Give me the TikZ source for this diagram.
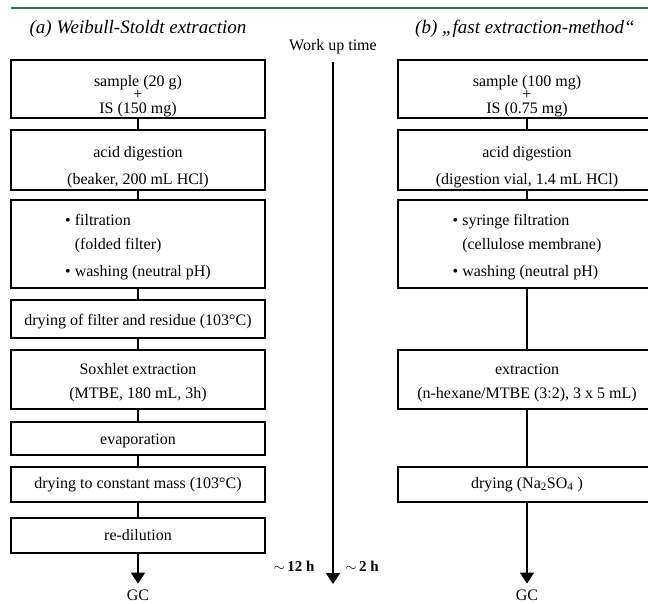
\documentclass[tikz,border=0pt]{standalone}
\usepackage{fontspec}
\setmainfont{Liberation Serif}
\usetikzlibrary{arrows.meta, positioning}

\definecolor{rulegreen}{RGB}{45,120,65}
% lower a block of text inside its box without changing the box
\newcommand{\dropby}[2]{\raisebox{-#1}[\height][\depth]{#2}}

\begin{document}
\begin{tikzpicture}[
    x=1pt, y=-1pt,
    line width=1.4pt,
    stage/.style={draw, rectangle, minimum width=254pt, align=center, inner sep=0pt, font=\fontsize{16}{19}\selectfont},
    fast/.style={stage, minimum width=258pt},
    flow/.style={-{Triangle[length=11pt, width=14pt]}},
    headline/.style={font=\fontsize{19}{22}\selectfont\itshape},
    worktext/.style={font=\fontsize{16}{19}\selectfont},
    hours/.style={font=\fontsize{15}{18}\selectfont\bfseries},
    gc/.style={worktext, inner sep=0pt, outer sep=6pt}
]
    \useasboundingbox (0,0) rectangle (648,603);
    \clip (0,0) rectangle (648,603);

    % top rule
    \coordinate (ruleL) at (11,8);
    \coordinate (ruleR) at (648,8);
    \draw[rulegreen, line width=2.4pt] (ruleL) -- (ruleR);

    % --- HEADINGS ---
    \node[headline] (heada) at (138,29) {(a) Weibull-Stoldt extraction};
    \node[headline] (headb) at (525,29) {(b) „fast extraction-method“};
    \node[worktext] (work) at (333,47) {Work up time};

    % --- LEFT: WEIBULL-STOLDT ---
    \node[stage, minimum height=58pt] (ws1) at (138,89) {\dropby{7pt}{\begin{tabular}{@{}c@{}}
        sample (20 g)\\[-6pt]+\\[-4.5pt]IS (150 mg)\end{tabular}}};
    \node[stage, minimum height=60pt] (ws2) at (138,160) {\dropby{7pt}{\begin{tabular}{@{}c@{}}
        acid digestion\\[8pt](beaker, 200 mL HCl)\end{tabular}}};
    \node[stage, minimum height=88pt] (ws3) at (138,244) {\dropby{3pt}{\begin{tabular}{@{}l@{}}
        \textbullet\ filtration\\[5pt]
        \phantom{\textbullet\ }(folded filter)\\[8pt]
        \textbullet\ washing (neutral pH)\end{tabular}}};
    \node[stage, minimum height=38pt] (ws4) at (138,319) {\dropby{3pt}{drying of filter and residue (103°C)}};
    \node[stage, minimum height=59pt] (ws5) at (138,379.5) {\dropby{3pt}{\begin{tabular}{@{}c@{}}
        Soxhlet extraction\\[5pt](MTBE, 180 mL, 3h)\end{tabular}}};
    \node[stage, minimum height=33pt] (ws6) at (138,438.5) {\dropby{2pt}{evaporation}};
    \node[stage, minimum height=35pt] (ws7) at (138,484.5) {drying to constant mass (103°C)};
    \node[stage, minimum height=35pt] (ws8) at (138,535.5) {re-dilution};
    \node[gc] (gca) at (138,595) {GC};

    \draw (ws1) -- (ws2);
    \draw (ws2) -- (ws3);
    \draw (ws3) -- (ws4);
    \draw (ws4) -- (ws5);
    \draw (ws5) -- (ws6);
    \draw (ws6) -- (ws7);
    \draw (ws7) -- (ws8);
    \draw[flow] (ws8) -- (gca);

    % --- MIDDLE: WORK UP TIME ---
    \coordinate (ttop) at (333,62);
    \coordinate (tend) at (333,584);
    \draw[flow] (ttop) -- (tend);
    \node[hours] (slow) at (294,566) {$\sim$\,12 h};
    \node[hours] (quick) at (362,566) {$\sim$\,2 h};

    % --- RIGHT: FAST METHOD ---
    \node[fast, minimum height=58pt] (fm1) at (527,89) {\dropby{7pt}{\begin{tabular}{@{}c@{}}
        sample (100 mg)\\[-6pt]+\\[-4.5pt]IS (0.75 mg)\end{tabular}}};
    \node[fast, minimum height=60pt] (fm2) at (527,160) {\dropby{7pt}{\begin{tabular}{@{}c@{}}
        acid digestion\\[8pt](digestion vial, 1.4 mL HCl)\end{tabular}}};
    \node[fast, minimum height=88pt] (fm3) at (527,244) {\dropby{3pt}{\begin{tabular}{@{}l@{}}
        \textbullet\ syringe filtration\\[5pt]
        \phantom{\textbullet\ }(cellulose membrane)\\[8pt]
        \textbullet\ washing (neutral pH)\end{tabular}}};
    \node[fast, minimum height=59pt] (fm4) at (527,379.5) {\dropby{3pt}{\begin{tabular}{@{}c@{}}
        extraction\\[5pt](n-hexane/MTBE (3:2), 3 x 5 mL)\end{tabular}}};
    \node[fast, minimum height=35pt] (fm5) at (527,484.5) {drying (Na\textsubscript{2}SO\textsubscript{4} )};
    \node[gc] (gcb) at (527,595) {GC};

    \draw (fm1) -- (fm2);
    \draw (fm2) -- (fm3);
    \draw (fm3) -- (fm4);
    \draw (fm4) -- (fm5);
    \draw[flow] (fm5) -- (gcb);

\end{tikzpicture}
\end{document}
